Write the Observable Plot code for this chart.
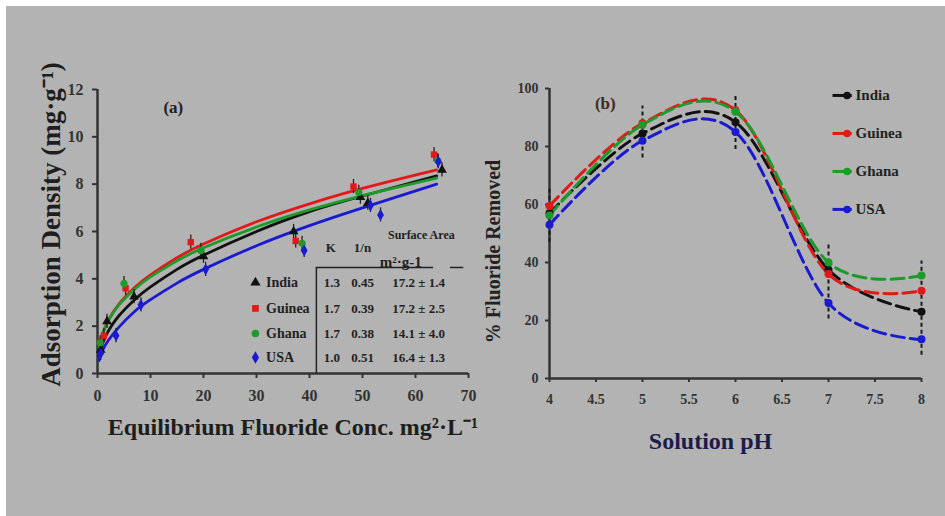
<!DOCTYPE html>
<html>
<head>
<meta charset="utf-8">
<script src="https://cdn.jsdelivr.net/npm/d3@7"></script>
<script src="https://cdn.jsdelivr.net/npm/@observablehq/plot@0.6"></script>
<style>
  html, body { margin: 0; padding: 0; background: #ffffff; }
  #wrap { position: relative; width: 945px; height: 516px; background: #ffffff; overflow: hidden; }
  #bg { position: absolute; left: 6px; top: 6px; right: 0; bottom: 0; background: #b3b3b3; }
  .panel { position: absolute; top: 0; }
  #pa { left: 0; }
  #pb { left: 480px; }
  #wrap svg, #wrap svg text { font-family: "Liberation Serif", "Times New Roman", serif !important; font-weight: bold; }
</style>
</head>
<body>
<div id="wrap"><div id="bg"></div><div id="pa" class="panel"></div><div id="pb" class="panel"></div></div>
<script>
// ---------- Panel (a) data ----------
const countries = ["India", "Guinea", "Ghana", "USA"];
const colors = ["#111111", "#e01a1a", "#1c9a2a", "#1a1ad0"];
const symbolsA = ["triangle", "square", "circle", "diamond"];

const indiaX = [0.6, 1.8, 6.9, 20, 37, 49.6, 51, 65];
const indiaY = [1.0, 2.2, 3.25, 4.95, 6.0, 7.45, 7.2, 8.6];
const guineaX = [1.2, 5.3, 17.6, 37.4, 48.3, 63.5];
const guineaY = [1.6, 3.6, 5.55, 5.6, 7.9, 9.25];
const ghanaX = [0.5, 5.0, 19.5, 38.6, 49.3, 64.2];
const ghanaY = [1.3, 3.8, 5.2, 5.5, 7.65, 9.0];
const usaX = [0.6, 3.5, 8.2, 20.4, 39, 51.5, 53.4, 64.3];
const usaY = [0.85, 1.6, 2.9, 4.4, 5.2, 7.1, 6.7, 8.95];

// fitted isotherm curves
const fitX = [0.3, 0.5, 1, 2, 4, 7, 10, 15, 20, 30, 40, 50, 64];
const fitIndia = [0.75, 0.95, 1.3, 1.78, 2.43, 3.12, 3.66, 4.40, 5.0, 6.0, 6.84, 7.5, 8.35];
const fitGuinea = [1.06, 1.30, 1.70, 2.23, 2.92, 3.63, 4.17, 4.89, 5.47, 6.41, 7.17, 7.82, 8.6];
const fitGhana = [1.08, 1.31, 1.70, 2.21, 2.88, 3.56, 4.08, 4.76, 5.31, 6.19, 6.91, 7.52, 8.26];
const fitUSA = [0.55, 0.75, 1.0, 1.38, 1.95, 2.62, 3.12, 3.82, 4.4, 5.4, 6.25, 7.0, 8.0];

// table in panel (a)
const tableK = ["1.3", "1.7", "1.7", "1.0"];
const tableN = ["0.45", "0.39", "0.38", "0.51"];
const tableArea = ["17.2 ± 1.4", "17.2 ± 2.5", "14.1 ± 4.0", "16.4 ± 1.3"];

const xTicksA = [0, 10, 20, 30, 40, 50, 60, 70];
const yTicksA = [0, 2, 4, 6, 8, 10, 12];

// ---------- Panel (b) data ----------
const pH = [4, 5, 6, 7, 8];
const remIndia = [57, 84.5, 88.4, 37.5, 23];
const remGuinea = [59.5, 88, 92.5, 36, 30.3];
const remGhana = [56.2, 87.5, 92, 40, 35.5];
const remUSA = [53, 82, 85, 26, 13.5];
const errLow = [47, 76, 79, 20.5, 8];
const errHigh = [66, 94, 98, 46, 40.5];
const xTicksB = [4, 4.5, 5, 5.5, 6, 6.5, 7, 7.5, 8];
const yTicksB = [0, 20, 40, 60, 80, 100];

// ---------- build tables ----------
const ptsX = [indiaX, guineaX, ghanaX, usaX];
const ptsY = [indiaY, guineaY, ghanaY, usaY];
const pointsA = countries.flatMap((c, i) => ptsX[i].map((x, j) => ({country: c, x, y: ptsY[i][j]})));
const fits = [fitIndia, fitGuinea, fitGhana, fitUSA];
const curvesA = countries.flatMap((c, i) => fitX.map((x, j) => ({country: c, x, y: fits[i][j]})));
const tableRows = countries.map((c, i) => ({country: c, k: tableK[i], n: tableN[i], area: tableArea[i], row: i}));

const rems = [remIndia, remGuinea, remGhana, remUSA];
const seriesB = countries.flatMap((c, i) => pH.map((p, j) => ({country: c, pH: p, v: rems[i][j]})));
const errB = pH.map((p, j) => ({pH: p, lo: errLow[j], hi: errHigh[j]}));

const font = "Liberation Serif";
const axisCol = "#333333";
const color = {domain: countries, range: colors};
const symbol = {domain: countries, range: symbolsA};
const fmt = d => String(d);

// legend/table row positions (y in data units of panel a)
const rowY = [3.84, 2.75, 1.69, 0.68];
const tRows = tableRows.map(d => ({...d, ry: rowY[d.row]}));

const plotA = Plot.plot({
  width: 480, height: 516,
  marginLeft: 97, marginRight: 12, marginTop: 89, marginBottom: 143,
  style: {background: "transparent", fontFamily: font, fontWeight: "bold", color: axisCol, overflow: "visible"},
  x: {domain: [0, 70]},
  y: {domain: [0, 12]},
  color, symbol,
  marks: [
    Plot.axisX({ticks: xTicksA, tickFormat: fmt, tickSize: 5, tickPadding: 11, fontSize: 16, stroke: axisCol, strokeWidth: 2, fill: axisCol, label: null}),
    Plot.axisY({ticks: yTicksA, tickFormat: fmt, tickSize: 5, tickPadding: 9, fontSize: 16, stroke: axisCol, strokeWidth: 2, fill: axisCol, label: null}),
    Plot.ruleX([0], {stroke: axisCol, strokeWidth: 2.5}),
    Plot.ruleY([0], {stroke: axisCol, strokeWidth: 2.5}),
    // table lines
    Plot.ruleX([41.3], {y1: 0, y2: 4.48, stroke: "#222", strokeWidth: 1.5}),
    Plot.ruleY([4.48], {x1: 41.3, x2: 63.4, stroke: "#222", strokeWidth: 1.5}),
    Plot.ruleY([4.48], {x1: 66.6, x2: 69.1, stroke: "#222", strokeWidth: 1.5}),
    // fitted curves
    Plot.line(curvesA, {x: "x", y: "y", stroke: "country", z: "country", curve: "natural", strokeWidth: 2.8}),
    // error bars
    Plot.ruleX(pointsA, {x: "x", y1: d => d.y - 0.3, y2: d => d.y + 0.3, stroke: "#222", strokeWidth: 1.3}),
    // points
    Plot.dot(pointsA, {x: "x", y: "y", fill: "country", symbol: "country", r: 3.6}),
    // legend
    Plot.dot(tRows, {x: 29.8, y: "ry", fill: "country", symbol: "country", r: 3.8}),
    Plot.text(tRows, {x: 31.8, y: "ry", text: "country", textAnchor: "start", fontSize: 14, fill: "#222"}),
    // table text
    Plot.text(tRows, {x: 44.2, y: "ry", text: "k", fontSize: 13, fill: "#222"}),
    Plot.text(tRows, {x: 50, y: "ry", text: "n", fontSize: 13, fill: "#222"}),
    Plot.text(tRows, {x: 60.6, y: "ry", text: "area", fontSize: 13, fill: "#222"}),
    Plot.text(["K"], {x: 44.0, y: 5.32, fontSize: 13, fill: "#222"}),
    Plot.text(["1/n"], {x: 50.0, y: 5.32, fontSize: 13, fill: "#222"}),
    Plot.text(["Surface Area"], {x: 61.1, y: 5.83, fontSize: 12, fill: "#222"}),
    Plot.text(["m²·g-1"], {x: 57.2, y: 4.69, fontSize: 15, fill: "#222"}),
    // panel label and axis titles
    Plot.text(["(a)"], {x: 14.3, y: 11.24, fontSize: 17, fill: "#222"}),
    Plot.text(["Equilibrium Fluoride Conc. mg²·L⁻¹"], {frameAnchor: "bottom", textAnchor: "middle", dy: 61, dx: 10, fontSize: 24, fill: "#1e1e1e"}),
    Plot.text(["Adsorption Density (mg·g⁻¹)"], {frameAnchor: "left", textAnchor: "middle", dx: -46, dy: -7, rotate: -90, fontSize: 27, fill: "#1e1e1e"})
  ]
});
document.getElementById("pa").appendChild(plotA);

const legY = [97.6, 84.5, 71.4, 58.3];
const legB = countries.map((c, i) => ({country: c, ly: legY[i]}));

const plotB = Plot.plot({
  width: 465, height: 516,
  marginLeft: 69, marginRight: 24, marginTop: 88, marginBottom: 138,
  style: {background: "transparent", fontFamily: font, fontWeight: "bold", color: axisCol, overflow: "visible"},
  x: {domain: [4, 8]},
  y: {domain: [0, 100]},
  color,
  marks: [
    Plot.axisX({ticks: xTicksB, tickFormat: fmt, tickSize: 4, tickPadding: 12, fontSize: 14, stroke: axisCol, strokeWidth: 2, fill: axisCol, label: null}),
    Plot.axisY({ticks: yTicksB, tickFormat: fmt, tickSize: 4, tickPadding: 7, fontSize: 14, stroke: axisCol, strokeWidth: 2, fill: axisCol, label: null}),
    Plot.ruleX([4], {stroke: axisCol, strokeWidth: 2.5}),
    Plot.ruleY([0], {stroke: axisCol, strokeWidth: 2.5}),
    Plot.ruleX(errB, {x: "pH", y1: "lo", y2: "hi", stroke: "#1a1a1a", strokeWidth: 2, strokeDasharray: "4,3"}),
    Plot.line(seriesB, {x: "pH", y: "v", stroke: "country", z: "country", curve: "cardinal", strokeWidth: 3, strokeDasharray: "13,6"}),
    Plot.dot(seriesB, {x: "pH", y: "v", fill: "country", r: 4}),
    // legend
    Plot.link(legB, {x1: 7.043, x2: 7.25, y1: "ly", y2: "ly", stroke: "country", strokeWidth: 3}),
    Plot.dot(legB, {x: 7.2, y: "ly", fill: "country", r: 3.8}),
    Plot.text(legB, {x: 7.29, y: "ly", text: "country", textAnchor: "start", fontSize: 15, fill: "#222"}),
    Plot.text(["(b)"], {x: 4.6, y: 94.8, fontSize: 17, fill: "#3d2b1f"}),
    Plot.text(["Solution pH"], {frameAnchor: "bottom", textAnchor: "middle", dy: 70, dx: -25, fontSize: 24, fill: "#1c1c4c"}),
    Plot.text(["% Fluoride Removed"], {frameAnchor: "left", textAnchor: "middle", dx: -56, dy: 18, rotate: -90, fontSize: 20, fill: "#222"})
  ]
});
document.getElementById("pb").appendChild(plotB);
</script>
</body>
</html>
